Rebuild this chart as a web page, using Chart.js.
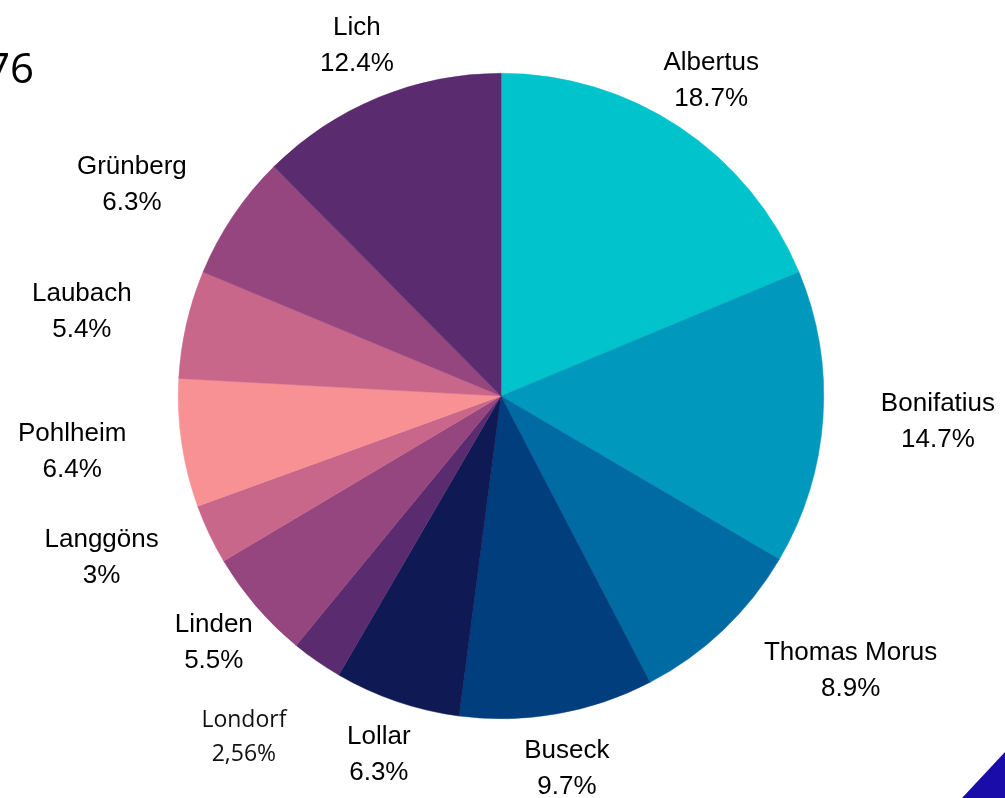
<!DOCTYPE html>
<html lang="de">
<head>
    <meta charset="UTF-8">
    <title>Pie</title>
    <script src="https://cdn.jsdelivr.net/npm/chart.js"></script>
    <style>
        html, body { margin: 0; padding: 0; background: #fff; }
        #wrap { position: relative; width: 1005px; height: 798px; }
    </style>
</head>
<body>
    <div id="wrap"><canvas id="pie"></canvas></div>

    <script>
        // data, clockwise from 12 o'clock
        const places = ['Albertus', 'Bonifatius', 'Thomas Morus', 'Buseck', 'Lollar', 'Londorf',
                        'Linden', 'Langgöns', 'Pohlheim', 'Laubach', 'Grünberg', 'Lich'];
        const shares = [18.7, 14.7, 8.9, 9.7, 6.3, 2.56, 5.5, 3, 6.4, 5.4, 6.3, 12.4];
        const shareText = ['18.7%', '14.7%', '8.9%', '9.7%', '6.3%', '2,56%',
                           '5.5%', '3%', '6.4%', '5.4%', '6.3%', '12.4%'];
        const colors = ['#00c3cb', '#0098bd', '#006ba3', '#003e7e', '#0f1a55', '#5a2b6e',
                        '#95467f', '#c9678a', '#f79193', '#c9678a', '#95467f', '#5a2b6e'];

        // how each label sits against its anchor point
        const labelAlign = ['center', 'left', 'left', 'center', 'center', 'center',
                            'center', 'right', 'right', 'right', 'right', 'center'];

        const outsideLabels = {
            id: 'outsideLabels',
            afterDraw(chart) {
                const ctx = chart.ctx;
                const meta = chart.getDatasetMeta(0);
                ctx.save();
                ctx.textBaseline = 'middle';
                ctx.textAlign = 'center';
                meta.data.forEach((arc, i) => {
                    const p = arc.getProps(['x', 'y', 'startAngle', 'endAngle', 'outerRadius'], true);
                    const mid = (p.startAngle + p.endAngle) / 2;
                    const d = p.outerRadius + 56;
                    let x = p.x + Math.cos(mid) * d;
                    let y = p.y + Math.sin(mid) * d;
                    const small = places[i] === 'Londorf';
                    ctx.font = small ? '23px "Open Sans"' : '26px "Liberation Sans", Arial';
                    const w = Math.max(ctx.measureText(places[i]).width, ctx.measureText(shareText[i]).width);
                    if (labelAlign[i] === 'left') x += w / 2 + 2;
                    if (labelAlign[i] === 'right') x -= w / 2;
                    let gap = 36;
                    if (small) { x -= 41; y += 30; gap = 34; }
                    ctx.fillStyle = small ? '#111' : '#000';
                    ctx.fillText(places[i], x, y - gap / 2);
                    ctx.fillText(shareText[i], x, y + gap / 2);
                });

                // leftover bits of the slide around the chart
                ctx.font = '42px "Open Sans"';
                ctx.textAlign = 'right';
                ctx.textBaseline = 'alphabetic';
                ctx.fillStyle = '#000';
                ctx.fillText('76', 34, 83);
                ctx.fillStyle = '#1a0ca8';
                ctx.beginPath();
                ctx.moveTo(962, 798);
                ctx.lineTo(1005, 752);
                ctx.lineTo(1005, 798);
                ctx.closePath();
                ctx.fill();
                ctx.restore();
            }
        };

        new Chart(document.getElementById('pie'), {
            type: 'pie',
            data: {
                labels: places,
                datasets: [{
                    data: shares,
                    backgroundColor: colors,
                    borderColor: colors,
                    borderWidth: 0.5
                }]
            },
            options: {
                responsive: true,
                maintainAspectRatio: false,
                animation: false,
                layout: { padding: { left: 178, right: 181, top: 73, bottom: 79 } },
                plugins: {
                    legend: { display: false },
                    tooltip: { enabled: false }
                }
            },
            plugins: [outsideLabels]
        });
    </script>
</body>
</html>
